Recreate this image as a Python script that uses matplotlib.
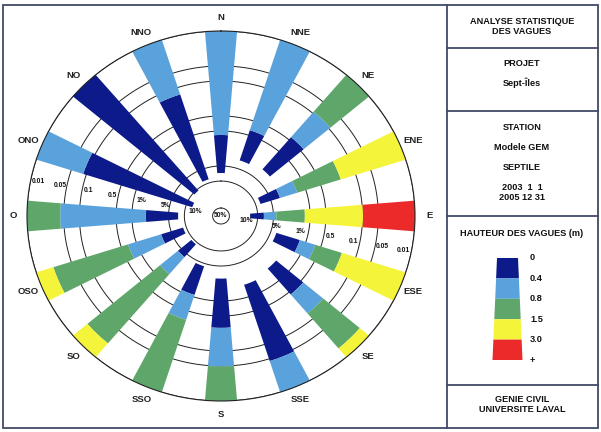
import numpy as np
import matplotlib
matplotlib.use("Agg")
import matplotlib.pyplot as plt
from matplotlib.patches import Rectangle, Polygon

plt.rcParams['font.family'] = ['Liberation Sans', 'DejaVu Sans']

# directions, clockwise from north (French labels)
directions = ['N', 'NNE', 'NE', 'ENE', 'E', 'ESE', 'SE', 'SSE',
              'S', 'SSO', 'SO', 'OSO', 'O', 'ONO', 'NO', 'NNO']

# % of time the wave height exceeds each class limit, per direction
# (0 = below 0.01 %, i.e. off the scale)
p_gt_0 = [6.9, 3.4, 3.0, 8.1, 13.9, 3.9, 2.1, 1.8, 2.8, 4.4, 9.1, 8.7, 7.6, 13.3, 10.8, 8.5]
p_gt_04 = [1.2, 0.79, 0.43, 3.3, 7.6, 1.32, 0.44, 0.045, 0.29, 1.1, 4.2, 3.16, 1.85, 0.087, 0, 0.14]
p_gt_08 = [0, 0, 0.093, 1.49, 4.4, 0.65, 0.14, 0, 0.049, 0.33, 1.5, 0.69, 0.043, 0, 0, 0]
p_gt_15 = [0, 0, 0, 0.2, 1.26, 0.19, 0.017, 0, 0, 0, 0.023, 0.022, 0, 0, 0, 0]
p_gt_30 = [0, 0, 0, 0, 0.098, 0, 0, 0, 0, 0, 0, 0, 0, 0, 0, 0]

class_limits = ['0', '0.4', '0.8', '1.5', '3.0', '+']
class_colors = ['#0c1a8a', '#5aa2dc', '#5fa66b', '#f4f43a', '#ec2a2a']

# rings of the log scale
ring_levels = [10, 5, 1, 0.5, 0.1, 0.05, 0.01]
ring_labels = ['10%', '5%', '1%', '0.5', '0.1', '0.05', '0.01']

FRAME = '#414b66'


def rad(p):
    # 50 % at the centre, 0.01 % on the outer circle
    return np.log10(50.0 / p)


RMAX = rad(0.01)

fig = plt.figure(figsize=(6.01, 4.32), dpi=100)

# background axes in pixel coordinates for the frame and the title block
bg = fig.add_axes([0, 0, 1, 1])
bg.set_xlim(0, 601)
bg.set_ylim(432, 0)
bg.axis('off')
bg.add_patch(Rectangle((3, 5), 595, 423, fill=False, lw=1.3, ec=FRAME))
bg.plot([447, 447], [5, 428], color=FRAME, lw=1.3)
for yy in [48, 111, 216, 385]:
    bg.plot([447, 598], [yy, yy], color=FRAME, lw=1.3)

cx = 522
txt = dict(ha='center', va='center', fontsize=6.6, fontweight='bold', color='#111111')
bg.text(cx, 22, 'ANALYSE STATISTIQUE', **txt)
bg.text(cx, 31, 'DES VAGUES', **txt)
bg.text(cx, 64, 'PROJET', **txt)
bg.text(cx, 83, 'Sept-Îles', **txt)
bg.text(cx, 127, 'STATION', **txt)
bg.text(cx, 147, 'Modele GEM', **txt)
bg.text(cx, 168, 'SEPTILE', **txt)
bg.text(cx, 188, '2003  1  1', **txt)
bg.text(cx, 198, '2005 12 31', **txt)
bg.text(cx, 233, 'HAUTEUR DES VAGUES (m)', **txt)
bg.text(cx, 399, 'GENIE CIVIL', **txt)
bg.text(cx, 409, 'UNIVERSITE LAVAL', **txt)

# trapezoid legend
top, bottom = 258, 360
half_top, half_bot = 10.5, 15
lx = 507.5
n = len(class_colors)
step = (bottom - top) / n
for k, col in enumerate(class_colors):
    y0 = top + k * step
    y1 = y0 + step
    h0 = half_top + (half_bot - half_top) * (y0 - top) / (bottom - top)
    h1 = half_top + (half_bot - half_top) * (y1 - top) / (bottom - top)
    bg.add_patch(Polygon([(lx - h0, y0), (lx + h0, y0), (lx + h1, y1), (lx - h1, y1)],
                         closed=True, fc=col, ec='none'))
for k, lab in enumerate(class_limits):
    bg.text(530, top + k * step, lab, ha='left', va='center', fontsize=6.6,
            fontweight='bold', color='#111111')

# the rose itself
ax = fig.add_axes([27 / 601, 1 - 401 / 432, 388 / 601, 370 / 432], projection='polar')
ax.set_aspect('auto')
ax.set_theta_zero_location('N')
ax.set_theta_direction(-1)
ax.set_ylim(0, RMAX)
ax.grid(False)
ax.set_xticks([])
ax.set_yticks([])
ax.patch.set_alpha(0)
ax.spines['polar'].set_linewidth(0.8)
ax.spines['polar'].set_color('#222222')

circle = np.linspace(0, 2 * np.pi, 500)
for p in ring_levels:
    ax.plot(circle, np.full_like(circle, rad(p)), color='#222222', lw=0.7, zorder=1)
ax.plot(circle, np.full_like(circle, 0.16), color='#222222', lw=0.7, zorder=1)

theta = np.deg2rad(np.arange(len(directions)) * 22.5)
width = np.deg2rad(9.5)
exceed = [p_gt_0, p_gt_04, p_gt_08, p_gt_15, p_gt_30]
for i in range(len(directions)):
    for k in range(len(exceed)):
        start = exceed[k][i]
        if start <= 0:
            break
        end = exceed[k + 1][i] if k + 1 < len(exceed) else 0
        if end <= 0:
            end = 0.01
        ax.bar(theta[i], rad(end) - rad(start), width=width, bottom=rad(start),
               color=class_colors[k], edgecolor='none', zorder=2)

# compass labels
for i, d in enumerate(directions):
    ax.text(theta[i], RMAX + 0.27, d, ha='center', va='center', fontsize=6.8,
            fontweight='bold', color='#222222', clip_on=False)

# scale labels on two rays, alternating just inside / outside the rings
offsets = [-0.2, 0.08, -0.15, 0.12, -0.12, 0.13, -0.15]
for ang in [281.25, 101.25]:
    for p, lab, off in zip(ring_levels, ring_labels, offsets):
        ax.text(np.deg2rad(ang), rad(p) + off, lab, ha='center', va='center',
                fontsize=4.9, fontweight='bold', color='#111111', zorder=3)
ax.text(0, 0, '50%', ha='center', va='center', fontsize=4.9, fontweight='bold',
        color='#111111', zorder=3)

fig.savefig('out.png', dpi=100)
